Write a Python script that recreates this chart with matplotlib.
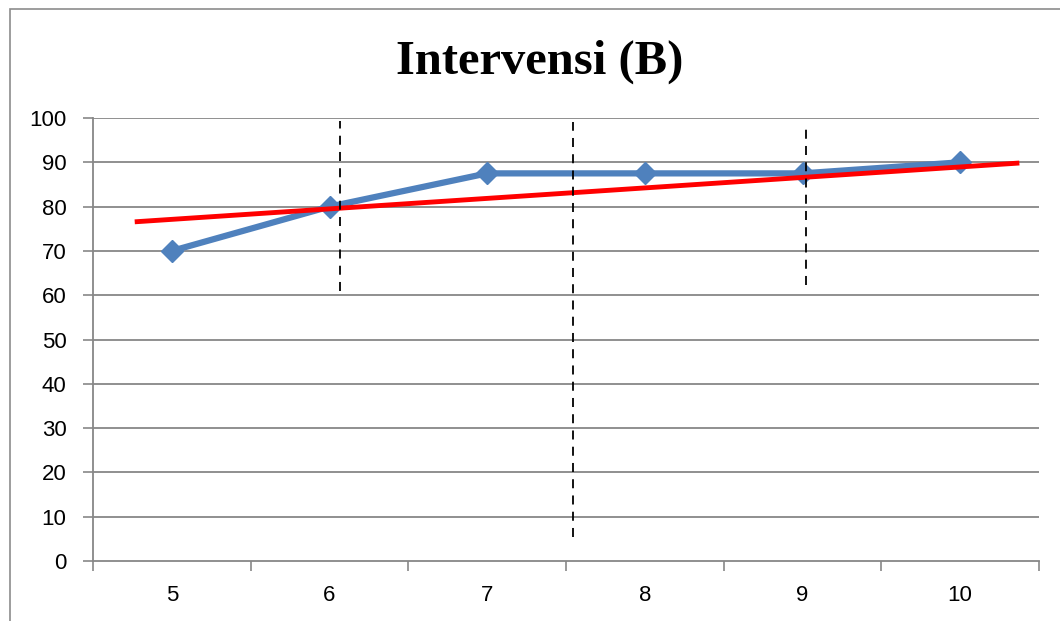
import matplotlib.pyplot as plt
from matplotlib.patches import Rectangle
import numpy as np

# Datos del grafico
sesiones = ['5', '6', '7', '8', '9', '10']
puntaje = [70, 80, 87.5, 87.5, 87.5, 90]

# Linea de tendencia roja (dibujada a mano): extremos en unidades de categoria
tend_x = [-0.22, 5.36]
tend_y = [76.6, 89.8]

# Lineas punteadas verticales: posicion x, y inicial, y final
div_x = [1.066, 2.545, 4.023]
div_y0 = [61.0, 5.5, 62.3]
div_y1 = [99.3, 99.2, 98.9]

fig = plt.figure(figsize=(10.6, 6.21), dpi=100)
ax = fig.add_axes([93/1060, 1 - 561/621, (1039 - 93)/1060, (561 - 118)/621])

# Marco exterior del area del grafico
fig.patches.append(Rectangle((10/1060, -0.1), 1.2, 1.1 - 9/621,
                             transform=fig.transFigure, fill=False,
                             edgecolor='#8c8c8c', linewidth=1.2))

x = np.arange(len(sesiones))

for y in range(10, 101, 10):
    ax.axhline(y, color='#878787', linewidth=1.3, zorder=1)

ax.plot(x, puntaje, color='#4f81bd', linewidth=4.5, marker='D',
        markersize=11, zorder=3)
ax.plot(tend_x, tend_y, color='#ff0000', linewidth=3.5, zorder=4)

for i in range(len(div_x)):
    ax.plot([div_x[i], div_x[i]], [div_y0[i], div_y1[i]], color='black',
            linewidth=1.3, linestyle=(0, (5, 4)), zorder=5)

ax.set_xlim(-0.5, 5.5)
ax.set_ylim(0, 100)

ax.set_yticks(range(0, 101, 10))
ax.set_xticks(np.arange(-0.5, 5.6, 1))
ax.set_xticklabels([])
ax.set_xticks(x, minor=True)
ax.set_xticklabels(sesiones, minor=True)

ax.tick_params(axis='y', length=7, width=1.2, color='#878787', pad=12,
               labelsize=16)
ax.tick_params(axis='x', which='major', length=7, width=1.2, color='#878787')
ax.tick_params(axis='x', which='minor', length=0, pad=17.5, labelsize=16)

for lab in ax.get_xticklabels(minor=True) + ax.get_yticklabels():
    lab.set_family('Liberation Sans')

for s in ['top', 'right']:
    ax.spines[s].set_visible(False)
ax.spines['left'].set_color('#878787')
ax.spines['bottom'].set_color('#878787')
ax.spines['left'].set_linewidth(1.3)
ax.spines['bottom'].set_linewidth(1.3)

fig.text(540/1060, 1 - 62/621, 'Intervensi (B)', ha='center', va='center',
         fontsize=35, fontweight='bold', family='Liberation Serif')

fig.savefig('out.png', dpi=100)
